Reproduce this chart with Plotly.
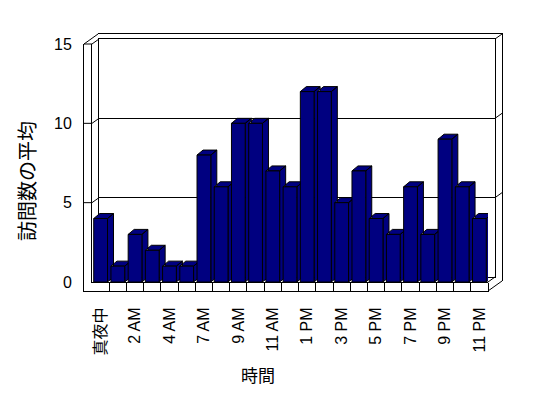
import numpy as np
import plotly.graph_objects as go

# ---- data ----
hours = ["真夜中", "1 AM", "2 AM", "3 AM", "4 AM", "6 AM", "7 AM", "8 AM", "9 AM",
         "10 AM", "11 AM", "正午", "1 PM", "2 PM", "3 PM", "4 PM", "5 PM", "6 PM",
         "7 PM", "8 PM", "9 PM", "10 PM", "11 PM"]
visits = [4, 1, 3, 2, 1, 1, 8, 6, 10, 10, 7, 6, 12, 12, 5, 7, 4, 3, 6, 3, 9, 6, 4]
y_ticks = [0, 5, 10, 15]
x_title = "時間"
y_title = "訪問数の平均"

W, H = 548, 398
NAVY = "#000080"
FONT = "Liberation Sans, Noto Sans CJK JP"


def xd(a, b):
    return [a / W, b / W]


def yd(top, bottom):
    return [1 - bottom / H, 1 - top / H]


n = len(hours)
xs = np.arange(n)
xr = [-0.5, n - 0.5]
yr = [0, 15]

# front plot area in px
FX0, FX1, FY0, FY1 = 92, 488, 44, 282
SLAB = 8   # wall / floor thickness (px)
DX, DY = 7, 5  # offset of the back wall inner face (px)
px_per_x = (FX1 - FX0) / n
px_per_y = (FY1 - FY0) / (yr[1] - yr[0])
DXP, DYP = 6, 5  # bar depth in px
ddx = DXP / px_per_x
ddy = DYP / px_per_y
bw = 0.8


def ypx(v):
    return FY1 - (v - yr[0]) * px_per_y


# side + top faces computed from data
fx, fy = [], []
for xi, v in zip(xs, visits):
    xl, xrt = xi - bw / 2, xi + bw / 2
    fx += [xrt, xrt, xrt + ddx, xrt + ddx, xrt, None]
    fy += [0, v, v + ddy, ddy, 0, None]
    fx += [xl, xrt, xrt + ddx, xl + ddx, xl, None]
    fy += [v, v, v + ddy, v + ddy, v, None]

fig = go.Figure()

# empty traces so that frame subplots get drawn
for ax in ["", "4", "5"]:
    fig.add_trace(go.Scatter(x=[None], y=[None], xaxis="x" + ax, yaxis="y" + ax,
                             mode="markers", hoverinfo="skip", showlegend=False))

# faces (beneath the fronts)
fig.add_trace(go.Scatter(x=fx, y=fy, xaxis="x2", yaxis="y2", mode="lines",
                         fill="toself", fillcolor=NAVY,
                         line=dict(color="black", width=1),
                         hoverinfo="skip", showlegend=False))
# fronts
fig.add_trace(go.Bar(x=xs, y=visits, xaxis="x3", yaxis="y3", width=bw,
                     marker=dict(color=NAVY, line=dict(color="black", width=1)),
                     showlegend=False))

blank = dict(showgrid=False, zeroline=False, showticklabels=False, ticks="",
             visible=True, automargin=False)

layout = dict(
    width=W, height=H, margin=dict(l=0, r=0, t=0, b=0, autoexpand=False),
    paper_bgcolor="white", plot_bgcolor="rgba(0,0,0,0)",
    font=dict(family=FONT, color="black", size=16),
    showlegend=False,
    # back wall (inner face)
    xaxis=dict(domain=xd(FX0 + DX, FX1 + DX), range=xr, anchor="y", showline=True,
               mirror=True, linecolor="black", linewidth=1, **blank),
    yaxis=dict(domain=yd(FY0 - DY, FY1 - DY), range=yr, anchor="x", showline=True,
               mirror=True, linecolor="black", linewidth=1, showgrid=True,
               gridcolor="black", gridwidth=1, tickvals=[5, 10], zeroline=False,
               showticklabels=False, ticks="", visible=True, automargin=False),
    # front axes
    xaxis2=dict(domain=xd(FX0, FX1), range=xr, anchor="y2", showline=True,
                linecolor="black", linewidth=1, showgrid=False, zeroline=False,
                tickmode="array", tickvals=list(xs[::2]), ticktext=hours[::2],
                tickangle=-90, ticks="", ticklabelstandoff=18, automargin=False,
                tickfont=dict(size=16, color="#000000"),
                minor=dict(tickmode="array", tickvals=list(xs[:] + 0.5),
                           ticks="outside", ticklen=9, tickcolor="black",
                           tickwidth=1, showgrid=False)),
    yaxis2=dict(domain=yd(FY0, FY1), range=yr, anchor="x2", showline=True,
                linecolor="black", linewidth=1, showgrid=False, zeroline=False,
                tickmode="array", tickvals=y_ticks, ticks="", automargin=False,
                ticklabelstandoff=16, tickfont=dict(size=16, color="black")),
    xaxis3=dict(overlaying="x2", range=xr, anchor="y3", visible=False),
    yaxis3=dict(overlaying="y2", range=yr, anchor="x3", visible=False),
    # outer front frame
    xaxis4=dict(domain=xd(FX0 - SLAB, FX1), range=[0, 1], anchor="y4", showline=True,
                linecolor="black", linewidth=1, **blank),
    yaxis4=dict(domain=yd(FY0, FY1 + 9), range=[0, 1], anchor="x4", showline=True,
                linecolor="black", linewidth=1, **blank),
    # outer back frame
    xaxis5=dict(domain=xd(98, FX1 + 2 * DX), range=[0, 1], anchor="y5", side="top",
                showline=True, linecolor="black", linewidth=1, **blank),
    yaxis5=dict(domain=yd(FY0 - 2 * DY, FY1 - 1), range=[0, 1], anchor="x5",
                side="right", showline=True, linecolor="black", linewidth=1, **blank),
)
fig.update_layout(**layout)

# depth edges of the walls (pixel geometry -> paper fractions)
segs = []
yt = ypx(yr[1])
segs += [(FX0 - SLAB, yt, FX0, yt),
         (FX0 - SLAB, yt, 98, yt - 2 * DY),
         (FX0, yt, FX0 + DX, yt - DY)]
for v in y_ticks[1:-1]:
    yy = ypx(v)
    segs += [(FX0 - SLAB, yy, FX0, yy), (FX0, yy, FX0 + DX, yy - DY)]
for v in y_ticks[1:]:
    yy = ypx(v)
    segs += [(FX1 + DX, yy - DY, FX1 + 2 * DX, yy - 2 * DY)]
segs += [(FX1, FY1, FX1 + DX, FY1 - DY), (FX1, FY1 + 9, FX1 + 2 * DX, FY1 - 1)]
for x0, y0, x1, y1 in segs:
    fig.add_shape(type="line", xref="paper", yref="paper", x0=x0 / W, y0=1 - y0 / H,
                  x1=x1 / W, y1=1 - y1 / H, line=dict(color="black", width=1))

fig.add_annotation(text=y_title, xref="paper", yref="paper", x=28 / W,
                   y=1 - 181 / H, showarrow=False, textangle=-90,
                   font=dict(size=20), xanchor="center", yanchor="middle")
fig.add_annotation(text=x_title, xref="paper", yref="paper", x=258 / W,
                   y=1 - 376 / H, showarrow=False,
                   font=dict(size=17), xanchor="center", yanchor="middle")

fig.write_html("out.html")
